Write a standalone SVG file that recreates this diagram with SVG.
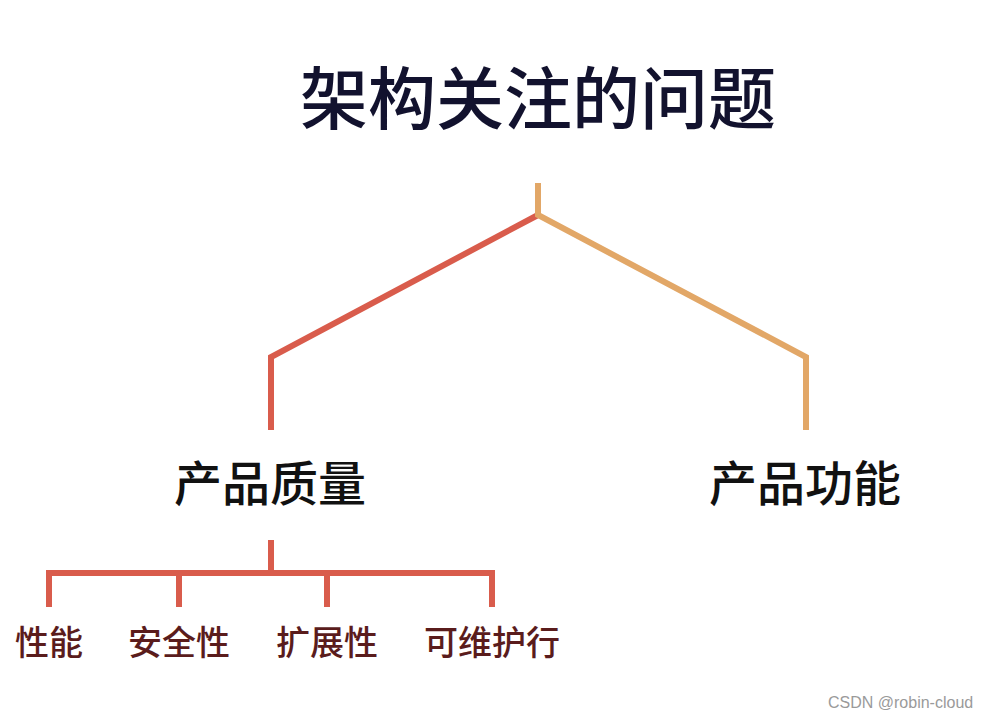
<svg xmlns="http://www.w3.org/2000/svg" width="986" height="718" viewBox="0 0 986 718">
<style>
.cjk{font-family:"Noto Sans CJK SC","Noto Sans CJK JP",sans-serif;text-anchor:middle}
.title{font-size:68px;font-weight:500;fill:#12122e}
.l1{font-size:48px;font-weight:500;fill:#111}
.l2{font-size:34px;font-weight:500;fill:#5a1c1c}
.red{stroke:#d95c4c;stroke-width:6;fill:none;stroke-linejoin:miter}
.org{stroke:#e2a767;stroke-width:6;fill:none;stroke-linejoin:miter}
.wm{font-family:"Liberation Sans",Arial,sans-serif;font-size:16px;fill:#9a9a9a}
</style>
<rect width="986" height="718" fill="#fff"/>
<g id="connectors">
<path class="red" d="M538,215 L271,357 L271,430"/>
<path class="org" d="M538,183 L538,215 L806,357 L806,430"/>
<path class="red" d="M271,540 L271,573 M48,573 L495,573 M49,570 L49,607 M179,573 L179,607 M327,573 L327,607 M492,570 L492,607"/>
</g>
<g id="title"><text class="cjk title" x="538" y="124">架构关注的问题</text></g>
<g id="quality"><text class="cjk l1" x="270" y="501">产品质量</text></g>
<g id="function"><text class="cjk l1" x="805" y="501">产品功能</text></g>
<g id="perf"><text class="cjk l2" x="49" y="655">性能</text></g>
<g id="security"><text class="cjk l2" x="179" y="655">安全性</text></g>
<g id="scalability"><text class="cjk l2" x="327" y="655">扩展性</text></g>
<g id="maintain"><text class="cjk l2" x="492" y="655">可维护行</text></g>
<text class="wm" x="828" y="708">CSDN @robin-cloud</text>
</svg>
